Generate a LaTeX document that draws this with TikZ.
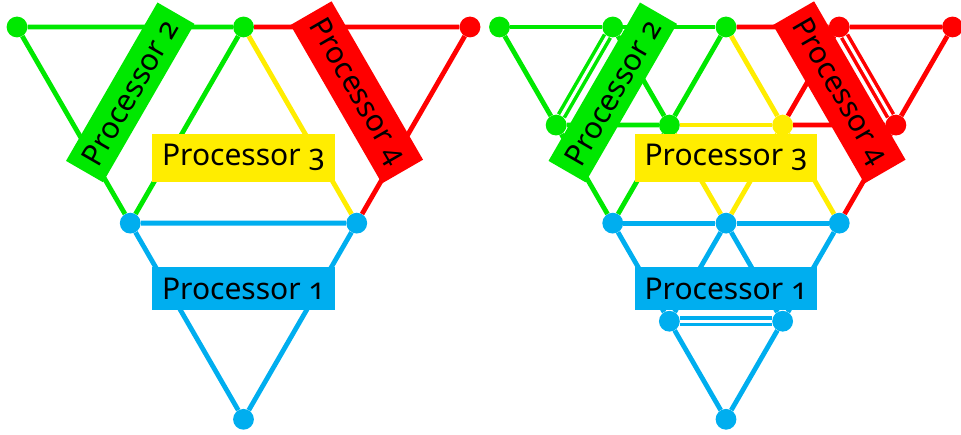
\documentclass[tikz,border=0pt]{standalone}
\usepackage{fontspec}
\setmainfont{Noto Sans}[Numbers=OldStyle]
\definecolor{pgreen}{RGB}{0,232,0}
\definecolor{pred}{RGB}{255,0,0}
\definecolor{pyellow}{RGB}{255,237,0}
\definecolor{pblue}{RGB}{0,174,239}
\tikzset{
  vtx/.style={circle, fill=#1, minimum size=20.8pt, inner sep=0pt},
  ln/.style={draw=#1, line width=4.8pt},
  dln/.style={draw=#1, line width=3.6pt, double=white, double distance=3pt},
  lbl/.style={fill=#1, inner xsep=10pt, inner ysep=10.5pt, text=black,
              font=\fontsize{30}{36}\selectfont},
}
\begin{document}
\begin{tikzpicture}[x=1pt,y=1pt]
\useasboundingbox (0,0) rectangle (961,434);
% ---------- left diagram ----------
\begin{scope}[shift={(17pt,407pt)}, x={(226.5pt,0pt)}, y={(113.25pt,-196.15pt)}]
  \node[vtx=pgreen] (A) at (0,0) {};
  \node[vtx=pgreen] (B) at (1,0) {};
  \node[vtx=pred]   (C) at (2,0) {};
  \node[vtx=pblue]  (D) at (0,1) {};
  \node[vtx=pblue]  (E) at (1,1) {};
  \node[vtx=pblue]  (F) at (0,2) {};
  \draw[ln=pred] (B) -- (C) -- (E);
  \draw[ln=pyellow] (B) -- (E);
  \draw[ln=pgreen] (A) -- (B) -- (D) -- (A);
  \draw[ln=pblue] (D) -- (E) -- (F) -- (D);
  \node[lbl=pgreen, rotate=60]  (L2) at (1/3,1/3) {Processor 2};
  \node[lbl=pred, rotate=-60]   (L4) at (4/3,1/3) {Processor 4};
  \node[lbl=pyellow]            (L3) at (2/3,2/3) {Processor 3};
  \node[lbl=pblue]              (L1) at (1/3,4/3) {Processor 1};
\end{scope}
% ---------- right diagram ----------
\begin{scope}[shift={(499.5pt,407pt)}, x={(113.25pt,0pt)}, y={(56.625pt,-98.075pt)}]
  \node[vtx=pgreen]  (a0) at (0,0) {};
  \node[vtx=pgreen]  (a1) at (1,0) {};
  \node[vtx=pgreen]  (a2) at (2,0) {};
  \node[vtx=pred]    (a3) at (3,0) {};
  \node[vtx=pred]    (a4) at (4,0) {};
  \node[vtx=pgreen]  (b0) at (0,1) {};
  \node[vtx=pgreen]  (b1) at (1,1) {};
  \node[vtx=pyellow] (b2) at (2,1) {};
  \node[vtx=pred]    (b3) at (3,1) {};
  \node[vtx=pblue]   (c0) at (0,2) {};
  \node[vtx=pblue]   (c1) at (1,2) {};
  \node[vtx=pblue]   (c2) at (2,2) {};
  \node[vtx=pblue]   (d0) at (0,3) {};
  \node[vtx=pblue]   (d1) at (1,3) {};
  \node[vtx=pblue]   (e0) at (0,4) {};
  % green
  \draw[ln=pgreen] (a0) -- (a1) -- (a2);
  \draw[ln=pgreen] (a0) -- (b0) -- (c0);
  \draw[ln=pgreen] (a1) -- (b1) -- (a2);
  \draw[ln=pgreen] (b0) -- (b1) -- (c0);
  \draw[dln=pgreen] (a1) -- (b0);
  % yellow
  \draw[ln=pyellow] (a2) -- (b2) -- (c2);
  \draw[ln=pyellow] (b1) -- (b2);
  \draw[ln=pyellow] (b1) -- (c1) -- (b2);
  % red
  \draw[ln=pred] (a2) -- (a3) -- (a4) -- (b3) -- (c2);
  \draw[ln=pred] (a3) -- (b2) -- (b3);
  \draw[dln=pred] (a3) -- (b3);
  % blue
  \draw[ln=pblue] (c0) -- (c1) -- (c2);
  \draw[ln=pblue] (c0) -- (d0) -- (c1) -- (d1) -- (c2);
  \draw[ln=pblue] (d0) -- (e0) -- (d1);
  \draw[dln=pblue] (d0) -- (d1);
  \node[lbl=pgreen, rotate=60]  (R2) at (2/3,2/3) {Processor 2};
  \node[lbl=pred, rotate=-60]   (R4) at (8/3,2/3) {Processor 4};
  \node[lbl=pyellow]            (R3) at (4/3,4/3) {Processor 3};
  \node[lbl=pblue]              (R1) at (2/3,8/3) {Processor 1};
\end{scope}
\end{tikzpicture}
\end{document}
